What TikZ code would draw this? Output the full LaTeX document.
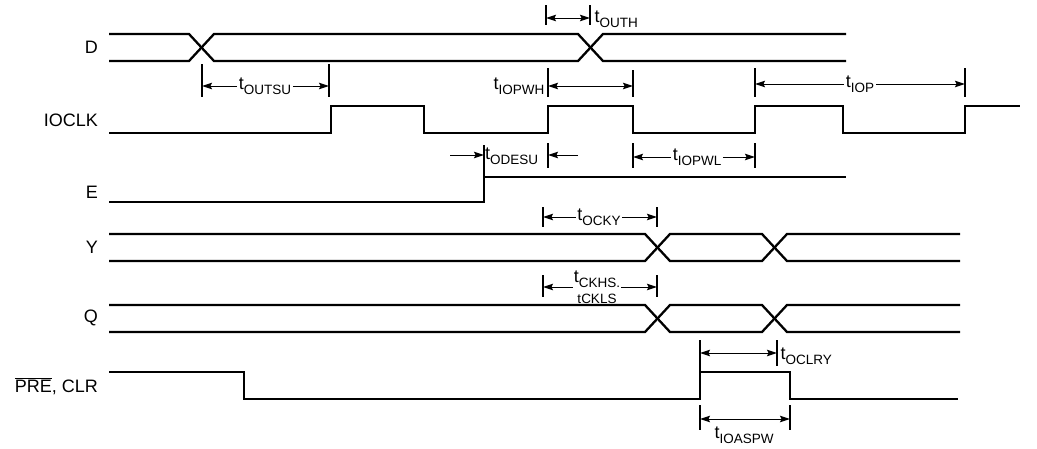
\documentclass[tikz,border=0pt]{standalone}
\usepackage{fontspec}
\setmainfont{Liberation Sans}
\usetikzlibrary{arrows.meta}
\newcommand{\tlab}[1]{t\raisebox{-0.28em}{\fontsize{13.5}{14}\selectfont #1}}
\begin{document}
\begin{tikzpicture}[x=1pt,y=-1pt,
  sig/.style={line width=2.3pt, line join=miter},
  tick/.style={line width=1.1pt},
  tip/.tip={Stealth[length=10pt,width=6.5pt,inset=1.5pt]},
  arr/.style={line width=1pt,-tip},
  darr/.style={line width=1pt,tip-tip},
  siglab/.style={anchor=east,font=\fontsize{18}{20}\selectfont,inner sep=0pt},
  tl/.style={font=\fontsize{18}{20}\selectfont,inner sep=1.5pt}]
\useasboundingbox (0,0) rectangle (1037,448);
% signal names
\node[siglab] (nD) at (98,47) {D};
\node[siglab] (nCLK) at (98,120) {IOCLK};
\node[siglab] (nE) at (98,192) {E};
\node[siglab] (nY) at (98,247) {Y};
\node[siglab] (nQ) at (98,318) {Q};
\node[siglab] (nP) at (98,386) {$\overline{\hbox{PRE}}$, CLR};
% D
\draw[sig] (109,34)--(189,34)--(214,61)--(578,61)--(603,34)--(846,34);
\draw[sig] (109,61)--(189,61)--(214,34)--(578,34)--(603,61)--(846,61);
% IOCLK
\draw[sig] (109,133)--(331,133)--(331,106)--(424,106)--(424,133)--(548,133)--(548,106)--(633,106)--(633,133)--(755,133)--(755,106)--(843,106)--(843,133)--(965,133)--(965,106)--(1020,106);
% E
\draw[sig] (109,202)--(484,202)--(484,177)--(846,177);
% Y
\draw[sig] (109,234)--(645,234)--(670,261)--(762,261)--(787,234)--(960,234);
\draw[sig] (109,261)--(645,261)--(670,234)--(762,234)--(787,261)--(960,261);
% Q
\draw[sig] (109,305)--(645,305)--(670,332)--(762,332)--(787,305)--(960,305);
\draw[sig] (109,332)--(645,332)--(670,305)--(762,305)--(787,332)--(960,332);
% PRE, CLR
\draw[sig] (109,372)--(244,372)--(244,399)--(700,399)--(700,372)--(790,372)--(790,399)--(958,399);

% tOUTH
\coordinate (h1) at (546,18); \coordinate (h2) at (590,18);
\draw[tick] (546,5)--(546,25); \draw[tick] (590,5)--(590,25);
\draw[darr] (h1)--(h2);
\node[tl,anchor=west] (touth) at (593,19) {\tlab{OUTH}};
% tOUTSU
\coordinate (s1) at (202,86); \coordinate (s2) at (329,86);
\draw[tick] (202,64)--(202,97); \draw[tick] (329,64)--(329,97);
\node[tl] (toutsu) at (265,86) {\tlab{OUTSU}};
\draw[arr] (toutsu.west) -- (toutsu.west -| s1);
\draw[arr] (toutsu.east) -- (toutsu.east -| s2);
% tIOPWH
\coordinate (w1) at (548,86); \coordinate (w2) at (633,86);
\draw[tick] (548,68)--(548,97); \draw[tick] (633,70)--(633,97);
\draw[darr] (w1)--(w2);
\node[tl,anchor=east] (tiopwh) at (546,86) {\tlab{IOPWH}};
% tIOP
\coordinate (p1) at (755,84); \coordinate (p2) at (965,84);
\draw[tick] (755,68)--(755,97); \draw[tick] (965,68)--(965,97);
\node[tl] (tiop) at (860,84) {\tlab{IOP}};
\draw[arr] (tiop.west) -- (tiop.west -| p1);
\draw[arr] (tiop.east) -- (tiop.east -| p2);
% ticks below IOCLK
\draw[tick] (484,145)--(484,177);
\draw[tick] (548,143)--(548,168);
\draw[tick] (633,143)--(633,168);
\draw[tick] (755,143)--(755,168);
% tODESU
\coordinate (o0) at (450,155); \coordinate (o1) at (484,155);
\coordinate (o2) at (548,155); \coordinate (o3) at (578,155);
\draw[arr] (o0)--(o1);
\draw[arr] (o3)--(o2);
\node[tl,anchor=west,inner sep=1pt] (todesu) at (484,156) {\tlab{ODESU}};
% tIOPWL
\coordinate (l1) at (633,157); \coordinate (l2) at (755,157);
\node[tl] (tiopwl) at (697,157) {\tlab{IOPWL}};
\draw[arr] (tiopwl.west) -- (tiopwl.west -| l1);
\draw[arr] (tiopwl.east) -- (tiopwl.east -| l2);
% tOCKY
\coordinate (k1) at (543,217); \coordinate (k2) at (657,217);
\draw[tick] (543,207)--(543,227); \draw[tick] (657,207)--(657,227);
\node[tl] (tocky) at (599,217) {\tlab{OCKY}};
\draw[arr] (tocky.west) -- (tocky.west -| k1);
\draw[arr] (tocky.east) -- (tocky.east -| k2);
% tCKHS, tCKLS
\coordinate (c1) at (543,287); \coordinate (c2) at (657,287);
\draw[tick] (543,275)--(543,297); \draw[tick] (657,275)--(657,297);
\node[tl,align=center,inner sep=1pt] (tckhs) at (597,287) {\tlab{CKHS.}\\[1pt]{\fontsize{13.5}{14}\selectfont tCKLS}};
\draw[arr] (tckhs.west) -- (tckhs.west -| c1);
\draw[arr] (tckhs.east) -- (tckhs.east -| c2);
% tOCLRY
\coordinate (r1) at (700,353); \coordinate (r2) at (777,353);
\draw[tick] (700,340)--(700,372); \draw[tick] (777,340)--(777,366);
\draw[darr] (r1)--(r2);
\node[tl,anchor=west] (toclry) at (779,356) {\tlab{OCLRY}};
% tIOASPW
\coordinate (a1) at (700,419); \coordinate (a2) at (790,419);
\draw[tick] (700,405)--(700,430); \draw[tick] (790,405)--(790,430);
\draw[darr] (a1)--(a2);
\node[tl] (tioaspw) at (744,435) {\tlab{IOASPW}};
\end{tikzpicture}
\end{document}
